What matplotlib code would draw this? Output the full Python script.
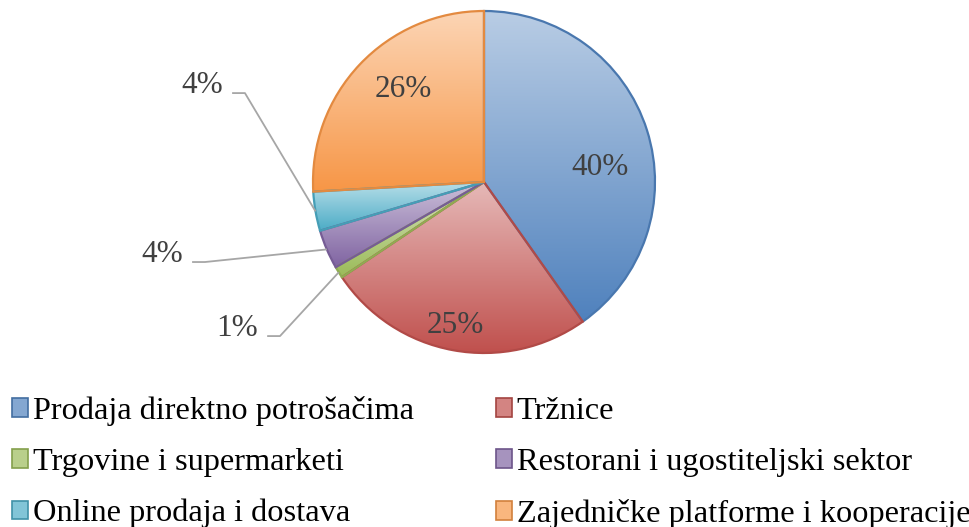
import matplotlib.pyplot as plt
import matplotlib.colors as mcolors
from matplotlib.patches import Patch
import numpy as np

categories = ["Prodaja direktno potrošačima", "Tržnice", "Trgovine i supermarketi",
              "Restorani i ugostiteljski sektor", "Online prodaja i dostava",
              "Zajedničke platforme i kooperacije"]
shares = [40.2, 25.4, 1.1, 3.7, 3.7, 25.9]
base_colors = ["#4F81BD", "#C0504D", "#9BBB59", "#8064A2", "#4BACC6", "#F79646"]

plt.rcParams['font.family'] = ['Liberation Serif', 'DejaVu Serif']

# pie radius = 1 data unit = 171 px, centre at (484, 182) px
PX = 171.0
fig = plt.figure(figsize=(9.7, 5.27), dpi=100)
ax = fig.add_axes([0, 0, 1, 1])


def shade(c, k):
    r = np.array(mcolors.to_rgb(c))
    return tuple(r * k)


def tint(c, k):
    r = np.array(mcolors.to_rgb(c))
    return tuple(r + (1 - r) * k)


wedges, _ = ax.pie(shares, colors=base_colors, startangle=90, counterclock=False,
                   radius=1, center=(0, 0),
                   wedgeprops=dict(linewidth=1.6))

# vertical gradient inside each wedge (light at top, full colour at bottom)
t = np.linspace(0, 1, 256)[:, None, None]
for w, c in zip(wedges, base_colors):
    top = np.array(tint(c, 0.6))
    bot = np.array(shade(c, 1.0))
    img = top * (1 - t) + bot * t
    bb = w.get_path().get_extents()
    im = ax.imshow(img, extent=(bb.x0, bb.x1, bb.y0, bb.y1), origin='upper',
                   aspect='auto', zorder=0.5, interpolation='bilinear')
    im.set_clip_path(w)
    w.set_facecolor('none')
    w.set_edgecolor(shade(c, 0.92))
    w.set_zorder(1)

pct = [f"{v:.0f}%" for v in shares]
label_kw = dict(fontsize=22.5, color='#404040', va='baseline')

# labels inside the pie (index -> baseline position)
inside = {0: (0.678, 0.041), 1: (-0.170, -0.883), 5: (-0.474, 0.497)}
for i, (x, y) in inside.items():
    ax.text(x, y, pct[i], ha='center', **label_kw)

# labels outside with leader lines (index -> elbow of the leader)
outside = {2: (-1.193, -0.901), 3: (-1.632, -0.468), 4: (-1.398, 0.520)}
for i, (ex, ey) in outside.items():
    w = wedges[i]
    mid = np.deg2rad((w.theta1 + w.theta2) / 2)
    px, py = np.cos(mid), np.sin(mid)
    ax.plot([ex - 0.075, ex, px], [ey, ey, py], color='#A6A6A6', lw=1.3,
            zorder=2, solid_capstyle='butt')
    ax.text(ex - 0.13, ey, pct[i], ha='right', **label_kw)

ax.set_xlim(-484 / PX, (970 - 484) / PX)
ax.set_ylim(-(527 - 182) / PX, 182 / PX)
ax.set_aspect('auto')
ax.axis('off')

handles = [Patch(facecolor=tint(c, 0.3), edgecolor=shade(c, 0.85), lw=1.2)
           for c in base_colors]
order = [0, 2, 4, 1, 3, 5]
fig.legend([handles[i] for i in order], [categories[i] for i in order],
           ncol=2, loc='upper left', bbox_to_anchor=(0.012, 0.249),
           frameon=False, fontsize=23.3, handlelength=0.5, handleheight=0.5,
           handletextpad=0.15, columnspacing=2.53, labelspacing=0.68,
           borderaxespad=0, borderpad=0)

fig.savefig("out.png", dpi=100)
